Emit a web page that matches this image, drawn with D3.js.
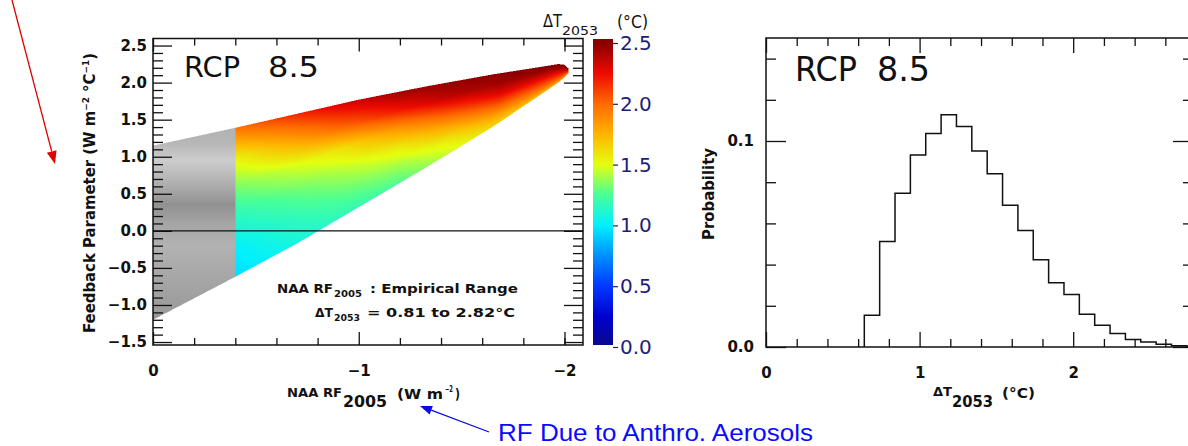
<!DOCTYPE html>
<html>
<head>
<meta charset="utf-8">
<script src="https://cdn.jsdelivr.net/npm/d3@7"></script>
<style>
  html, body { margin: 0; padding: 0; background: #fff; }
  svg { display: block; }
</style>
</head>
<body>
<svg id="chart" width="1188" height="446" font-family='"DejaVu Sans", "Liberation Sans", sans-serif'></svg>
<script>
// ---- Left panel: feedback-parameter envelope along NAA RF2005 ----
const rfEdge      = [0, -0.4, -0.7, -1.0, -1.33, -1.65, -1.88, -1.97, -2.0, -2.02];
const lambdaUpper = [1.15, 1.39, 1.58, 1.77, 1.95, 2.11, 2.21, 2.25, 2.24, 2.19];
const lambdaLower = [-1.20, -0.62, -0.17, 0.32, 0.86, 1.40, 1.83, 2.00, 2.07, 2.13];
const empiricalLimit = -0.4;   // RF2005 values weaker than this are shown in grey

// ΔT2053 inside the envelope: one row per RF node, columns = fraction from lower to upper edge
const dtRF       = [-0.4, -0.89, -1.2, -1.44, -1.685, -1.93, -2.02];
const dtFraction = [0, 0.2, 0.4, 0.6, 0.8, 1];
const dtValues = [
  [0.95, 1.01, 1.15, 1.33, 1.55, 1.98],
  [1.15, 1.27, 1.40, 1.58, 2.00, 2.30],
  [1.26, 1.40, 1.58, 1.86, 2.22, 2.45],
  [1.45, 1.58, 1.82, 2.10, 2.38, 2.48],
  [1.65, 1.85, 2.08, 2.30, 2.45, 2.50],
  [1.75, 2.00, 2.15, 2.30, 2.45, 2.55],
  [1.80, 2.05, 2.20, 2.35, 2.50, 2.60]
];

// grey shading of the excluded strip, by feedback parameter
const grayLambda = [-1.2, -0.9, -0.5, -0.2, 0.1, 0.35, 0.6, 0.95, 1.2, 1.4];
const grayLevel  = [152, 160, 170, 178, 165, 145, 172, 205, 182, 178];

// colour bar
const cbValues = [0, 0.25, 0.5, 0.75, 1.0, 1.25, 1.5, 1.75, 2.0, 2.25, 2.5];
const cbColors = ['#0a0a8a', '#0000d0', '#0038ff', '#0090ff', '#00f0ff', '#48ff98',
                  '#e4ff10', '#ffb400', '#ff6a00', '#ee0a00', '#8a0000'];
const cbTicks  = [0, 0.5, 1.0, 1.5, 2.0, 2.5];

// axis ticks
const leftXMajor = [0, -1, -2];
const leftXMinor = [-0.2, -0.4, -0.6, -0.8, -1.2, -1.4, -1.6, -1.8, -2.0];
const leftYMajor = [-1.5, -1.0, -0.5, 0.0, 0.5, 1.0, 1.5, 2.0, 2.5];
const leftYMinor = d3.range(-15, 26).map(d => d / 10).filter(d => !leftYMajor.includes(d));
const rightXMajor = [0, 1, 2];
const rightXMinor = [0.2, 0.4, 0.6, 0.8, 1.2, 1.4, 1.6, 1.8, 2.2, 2.4, 2.6];
const rightYMajor = [0.0, 0.1];
const rightYMinor = [0.02, 0.04, 0.06, 0.08, 0.12, 0.14];

// ---- Right panel: histogram of ΔT2053 ----
const binLeft = [0.64, 0.74, 0.84, 0.94, 1.04, 1.14, 1.24, 1.34, 1.44, 1.54, 1.64, 1.74,
                 1.84, 1.94, 2.04, 2.14, 2.24, 2.34, 2.44, 2.54, 2.64, 2.74, 2.84];
const binProb = [0.0154, 0.0512, 0.0746, 0.0932, 0.1037, 0.1127, 0.1070, 0.0951, 0.0841,
                 0.0688, 0.0566, 0.0423, 0.0312, 0.0255, 0.0159, 0.0106, 0.0065, 0.0037,
                 0.0024, 0.0013, 0.0006, 0.0003, 0.0001];
const binWidth = 0.1;

const svg = d3.select('#chart');
const FONT = '"DejaVu Sans", "Liberation Sans", sans-serif';

// ---------- scales ----------
const xL = d3.scaleLinear().domain([0, -2.09]).range([153, 583]);
const yL = d3.scaleLinear().domain([-1.54, 2.595]).range([345, 38.5]);
const xR = d3.scaleLinear().domain([0, 2.78]).range([766, 1193]);
const yR = d3.scaleLinear().domain([0, 0.15]).range([347, 38]);
const cbY = d3.scaleLinear().domain([0, 2.5]).range([347, 43]);

const upperAt = d3.scaleLinear().domain(rfEdge).range(lambdaUpper);
const lowerAt = d3.scaleLinear().domain(rfEdge).range(lambdaLower);
const grayAt  = d3.scaleLinear().domain(grayLambda).range(grayLevel).clamp(true);
const cmap    = d3.scaleLinear().domain(cbValues).range(cbColors)
                  .interpolate(d3.interpolateRgb).clamp(true);
const nodeAt  = dtFraction.map((f, k) =>
  d3.scaleLinear().domain(dtRF).range(dtValues.map(r => r[k])).clamp(true));

// colour lookup table
const LUT_N = 600, LUT_MAX = 2.7;
const lut = d3.range(LUT_N + 1).map(i => d3.rgb(cmap(i / LUT_N * LUT_MAX)));

// ---------- field raster ----------
const S = 2;
const fx0 = 153, fx1 = 583, fy0 = 38, fy1 = 345;
const W = (fx1 - fx0) * S, H = (fy1 - fy0) * S;
const cv = document.createElement('canvas');
cv.width = W; cv.height = H;
const ctx = cv.getContext('2d');
const img = ctx.createImageData(W, H);
const rfMin = d3.min(rfEdge);
for (let i = 0; i < W; i++) {
  const rf = xL.invert(fx0 + (i + 0.5) / S);
  if (rf > 0 || rf < rfMin) continue;
  const up = upperAt(rf), lo = lowerAt(rf);
  const tAt = d3.scaleLinear().domain(dtFraction).range(nodeAt.map(s => s(rf)));
  for (let j = 0; j < H; j++) {
    const lam = yL.invert(fy0 + (j + 0.5) / S);
    if (lam > up || lam < lo) continue;
    let r, g, b;
    if (rf > empiricalLimit) {
      r = g = b = grayAt(lam);
    } else {
      const t = Math.max(0, Math.min(LUT_MAX, tAt((lam - lo) / (up - lo))));
      const c = lut[Math.round(t / LUT_MAX * LUT_N)];
      r = c.r; g = c.g; b = c.b;
    }
    const k = (j * W + i) * 4;
    img.data[k] = r; img.data[k + 1] = g; img.data[k + 2] = b; img.data[k + 3] = 255;
  }
}
ctx.putImageData(img, 0, 0);
svg.append('image')
  .attr('x', fx0).attr('y', fy0).attr('width', fx1 - fx0).attr('height', fy1 - fy0)
  .attr('preserveAspectRatio', 'none')
  .attr('href', cv.toDataURL());

// zero line
svg.append('line')
  .attr('x1', xL(0)).attr('x2', xL(-2.09)).attr('y1', yL(0)).attr('y2', yL(0))
  .attr('stroke', '#111').attr('stroke-width', 1.3);

// ---------- axis helper ----------
function ticks(axis, transform, size, labels, pad, fontSize) {
  const g = svg.append('g').attr('transform', transform)
    .call(axis.tickSizeInner(-size).tickSizeOuter(0).tickPadding(pad || 0));
  g.select('.domain').remove();
  g.selectAll('line').attr('stroke', '#111').attr('stroke-width', 1.3);
  if (!labels) g.selectAll('text').remove();
  else g.attr('font-family', FONT).attr('font-size', fontSize).attr('font-weight', 'bold')
        .selectAll('text').attr('fill', '#111');
  return g;
}

// left panel axes
ticks(d3.axisBottom(xL).tickValues(leftXMajor).tickFormat(d => d === 0 ? '0' : d3.format('d')(d)),
      'translate(0,345)', 13, true, 20, 15);
ticks(d3.axisBottom(xL).tickValues(leftXMinor).tickFormat(''), 'translate(0,345)', 7, false);
ticks(d3.axisTop(xL).tickValues(leftXMajor).tickFormat(''), 'translate(0,38.5)', 13, false);
ticks(d3.axisTop(xL).tickValues(leftXMinor).tickFormat(''), 'translate(0,38.5)', 7, false);
ticks(d3.axisLeft(yL).tickValues(leftYMajor).tickFormat(d3.format('.1f')),
      'translate(153,0)', 19, true, 6, 15);
ticks(d3.axisLeft(yL).tickValues(leftYMinor).tickFormat(''), 'translate(153,0)', 10, false);
ticks(d3.axisRight(yL).tickValues(leftYMajor).tickFormat(''), 'translate(583,0)', 19, false);
ticks(d3.axisRight(yL).tickValues(leftYMinor).tickFormat(''), 'translate(583,0)', 10, false);
svg.append('rect').attr('x', 153).attr('y', 38.5).attr('width', 430).attr('height', 306.5)
  .attr('fill', 'none').attr('stroke', '#111').attr('stroke-width', 1.5);

// right panel axes
ticks(d3.axisBottom(xR).tickValues(rightXMajor).tickFormat(d3.format('d')),
      'translate(0,347)', 15, true, 20, 15);
ticks(d3.axisBottom(xR).tickValues(rightXMinor).tickFormat(''), 'translate(0,347)', 8, false);
ticks(d3.axisTop(xR).tickValues(rightXMajor).tickFormat(''), 'translate(0,38)', 15, false);
ticks(d3.axisTop(xR).tickValues(rightXMinor).tickFormat(''), 'translate(0,38)', 8, false);
ticks(d3.axisLeft(yR).tickValues(rightYMajor).tickFormat(d3.format('.1f')),
      'translate(766,0)', 20, true, 12, 15);
ticks(d3.axisLeft(yR).tickValues(rightYMinor).tickFormat(''), 'translate(766,0)', 10, false);
ticks(d3.axisRight(yR).tickValues(rightYMajor).tickFormat(''), 'translate(1193,0)', 20, false);
ticks(d3.axisRight(yR).tickValues(rightYMinor).tickFormat(''), 'translate(1193,0)', 10, false);
svg.append('rect').attr('x', 766).attr('y', 38).attr('width', 1193 - 766).attr('height', 309)
  .attr('fill', 'none').attr('stroke', '#111').attr('stroke-width', 1.5);

// histogram outline
const histPts = [{ x: binLeft[0], y: 0 }]
  .concat(binLeft.map((x, i) => ({ x, y: binProb[i] })))
  .concat([{ x: binLeft[binLeft.length - 1] + binWidth, y: 0 }]);
svg.append('path')
  .attr('d', d3.line().x(d => xR(d.x)).y(d => yR(d.y)).curve(d3.curveStepAfter)(histPts))
  .attr('fill', 'none').attr('stroke', '#111').attr('stroke-width', 1.5);

// ---------- colour bar ----------
const defs = svg.append('defs');
const grad = defs.append('linearGradient').attr('id', 'cbGrad')
  .attr('gradientUnits', 'userSpaceOnUse')
  .attr('x1', 0).attr('x2', 0).attr('y1', cbY(0)).attr('y2', cbY(2.5));
grad.selectAll('stop').data(cbValues).join('stop')
  .attr('offset', d => d / 2.5).attr('stop-color', (d, i) => cbColors[i]);
svg.append('rect').attr('x', 593).attr('y', 39).attr('width', 20).attr('height', 306)
  .attr('fill', 'url(#cbGrad)');
const cbG = svg.append('g').attr('transform', 'translate(613,0)')
  .call(d3.axisRight(cbY).tickValues(cbTicks).tickFormat(d3.format('.1f'))
        .tickSizeInner(5).tickSizeOuter(0).tickPadding(2));
cbG.select('.domain').remove();
cbG.attr('font-family', FONT).attr('font-size', 20);
cbG.selectAll('line').attr('stroke', '#1e1e78').attr('stroke-width', 1.2);
cbG.selectAll('text').attr('fill', '#1e1e78');

// ---------- text ----------
function txt(x, y, s, o) {
  o = o || {};
  const t = svg.append('text').attr('x', x).attr('y', y).text(s)
    .attr('font-size', o.size || 14).attr('font-weight', o.weight || 'normal')
    .attr('fill', o.fill || '#111');
  if (o.len) t.attr('textLength', o.len).attr('lengthAdjust', 'spacingAndGlyphs');
  if (o.family) t.attr('font-family', o.family);
  return t;
}

// panel titles
txt(184, 76.7, 'RCP', { size: 29, len: 56 });
txt(268, 76.7, '8.5', { size: 29, len: 51 });
txt(795, 80.7, 'RCP', { size: 34, len: 62 });
txt(877, 80.7, '8.5', { size: 34, len: 53 });

// colour bar title
txt(543, 27, 'ΔT', { size: 17, len: 19 });
txt(562, 35, '2053', { size: 13, len: 36 });
txt(617, 28, '(°C)', { size: 17, len: 31 });

// empirical range note
const B = 'bold';
txt(277, 292.5, 'NAA RF', { size: 12.5, weight: B, len: 56 });
txt(334, 297, '2005', { size: 9.5, weight: B, len: 28 });
txt(370, 292.5, ': Empirical Range', { size: 12.5, weight: B, len: 148 });
txt(315, 316.7, 'ΔT', { size: 12.5, weight: B, len: 18 });
txt(334, 321, '2053', { size: 9.5, weight: B, len: 26 });
txt(367, 316.7, '= 0.81 to 2.82°C', { size: 12.5, weight: B, len: 148 });

// left x-axis title
txt(287, 397, 'NAA RF', { size: 12.5, weight: B, len: 55 });
txt(343, 407, '2005', { size: 16, weight: B, len: 44 });
txt(397, 399, '(W m', { size: 14, weight: B, len: 46 });
txt(445, 392, '−2', { size: 8, weight: B, len: 8 });
txt(455, 399, ')', { size: 14, weight: B, len: 5 });

// right x-axis title
txt(933, 396, 'ΔT', { size: 13, weight: B, len: 19 });
txt(952, 407, '2053', { size: 16, weight: B, len: 41 });
txt(1002, 398, '(°C)', { size: 14, weight: B, len: 33 });

// y-axis titles
const yt = svg.append('text').attr('transform', 'translate(95,193) rotate(-90)')
  .attr('text-anchor', 'middle').attr('font-size', 15).attr('font-weight', B).attr('fill', '#111')
  .attr('textLength', 280).attr('lengthAdjust', 'spacingAndGlyphs');
yt.append('tspan').text('Feedback Parameter (W m');
yt.append('tspan').attr('dy', -6).attr('font-size', 9).text('−2');
yt.append('tspan').attr('dy', 6).text(' °C');
yt.append('tspan').attr('dy', -6).attr('font-size', 9).text('−1');
yt.append('tspan').attr('dy', 6).text(')');

svg.append('text').attr('transform', 'translate(714,194) rotate(-90)')
  .attr('text-anchor', 'middle').attr('font-size', 15).attr('font-weight', B).attr('fill', '#111')
  .attr('textLength', 92).attr('lengthAdjust', 'spacingAndGlyphs')
  .text('Probability');

// ---------- annotation arrows ----------
function arrow(x1, y1, x2, y2, color, headLen, headW) {
  const a = Math.atan2(y2 - y1, x2 - x1);
  const bx = x2 - headLen * Math.cos(a), by = y2 - headLen * Math.sin(a);
  const nx = -Math.sin(a) * headW / 2, ny = Math.cos(a) * headW / 2;
  svg.append('line').attr('x1', x1).attr('y1', y1).attr('x2', bx).attr('y2', by)
    .attr('stroke', color).attr('stroke-width', 1.3);
  svg.append('path')
    .attr('d', `M${x2},${y2}L${bx + nx},${by + ny}L${bx - nx},${by - ny}Z`)
    .attr('fill', color);
}
arrow(12, 0, 55, 164, '#e00000', 13, 10);
arrow(489, 432, 420, 406, '#0a0ae6', 12, 9);

txt(498, 440.5, 'RF Due to Anthro. Aerosols',
    { size: 24, fill: '#0a0aff', len: 315, family: '"Liberation Sans", Arial, sans-serif' });
</script>
</body>
</html>
